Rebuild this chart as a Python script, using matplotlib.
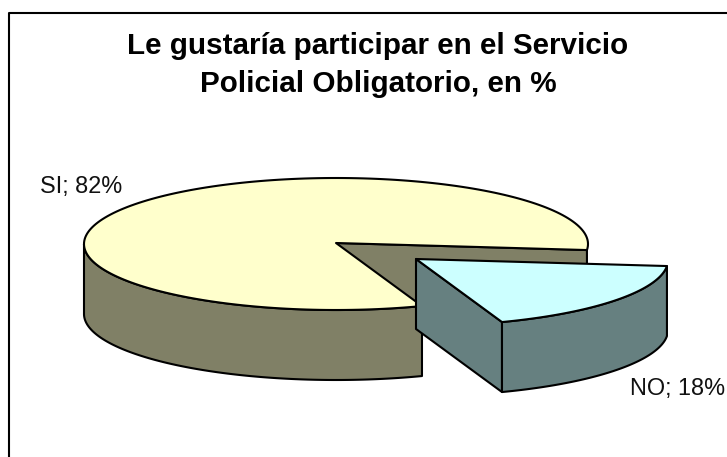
import numpy as np
import matplotlib
matplotlib.use("Agg")
import matplotlib.pyplot as plt
from matplotlib.patches import Polygon

plt.rcParams["font.family"] = ["Liberation Sans", "DejaVu Sans"]

title = "Le gustaría participar en el Servicio\nPolicial Obligatorio, en %"
labels = ["SI", "NO"]
values = [82, 18]

top_colors = ["#FFFFCC", "#CCFFFF"]
side_colors = ["#808066", "#668080"]

W, H = 727, 457
cx, cy = 336, 244
rx, ry = 252, 66
depth = 70
start = -70.05
explode = [(0, 0), (80, 16)]


def rim(a0, a1, ox, oy):
    t = np.radians(np.linspace(a0, a1, 200))
    return np.column_stack([cx + ox + rx * np.cos(t), cy + oy - ry * np.sin(t)])


def wall(pts):
    return np.vstack([pts, pts[::-1] + [0, depth]])


def add(ax, pts, color, z):
    ax.add_patch(Polygon(pts, closed=True, fc=color, ec="black", lw=1.5,
                         joinstyle="round", zorder=z))


fig = plt.figure(figsize=(W / 100, H / 100), dpi=100)
ax = fig.add_axes([0, 0, 1, 1])
ax.set_xlim(0, W)
ax.set_ylim(H, 0)
ax.axis("off")

# marco del grafico, solo arriba y a la izquierda
ax.plot([8.5, 8.5, W], [H, 12.5, 12.5], color="black", lw=1.5, zorder=1)

# angulos de cada sector, en sentido horario
shares = np.array(values) / sum(values) * 360
a_si = (start, start - shares[0])
a_no = (a_si[1] + 360, a_si[1] + 360 - shares[1])

# SI
si = rim(a_si[0], a_si[1], 0, 0)
center = np.array([[cx, cy - 1]])
add(ax, wall(np.vstack([center, si[-1:]])), side_colors[0], 2)
front = rim(a_si[0], -180, 0, 0)
add(ax, wall(front), side_colors[0], 3)
add(ax, np.vstack([center, si]), top_colors[0], 4)

# NO, separado del resto
ox, oy = explode[1]
no = rim(a_no[0], a_no[1], ox, oy)
apex = np.array([[cx + ox, cy + oy - 1]])
add(ax, wall(np.vstack([apex, no[-1:]])), side_colors[1], 5)
add(ax, wall(no), side_colors[1], 6)
add(ax, np.vstack([apex, no]), top_colors[1], 7)

ax.text(378, 65, title, ha="center", va="center", fontsize=21.35, fontweight="bold",
        linespacing=1.47, color="black")
ax.text(39.5, 186, f"{labels[0]}; {values[0]}%", ha="left", va="center", fontsize=16.9, color="#111111")
ax.text(630, 388, f"{labels[1]}; {values[1]}%", ha="left", va="center", fontsize=16.9, color="#111111")

fig.savefig("out.png", dpi=100)
